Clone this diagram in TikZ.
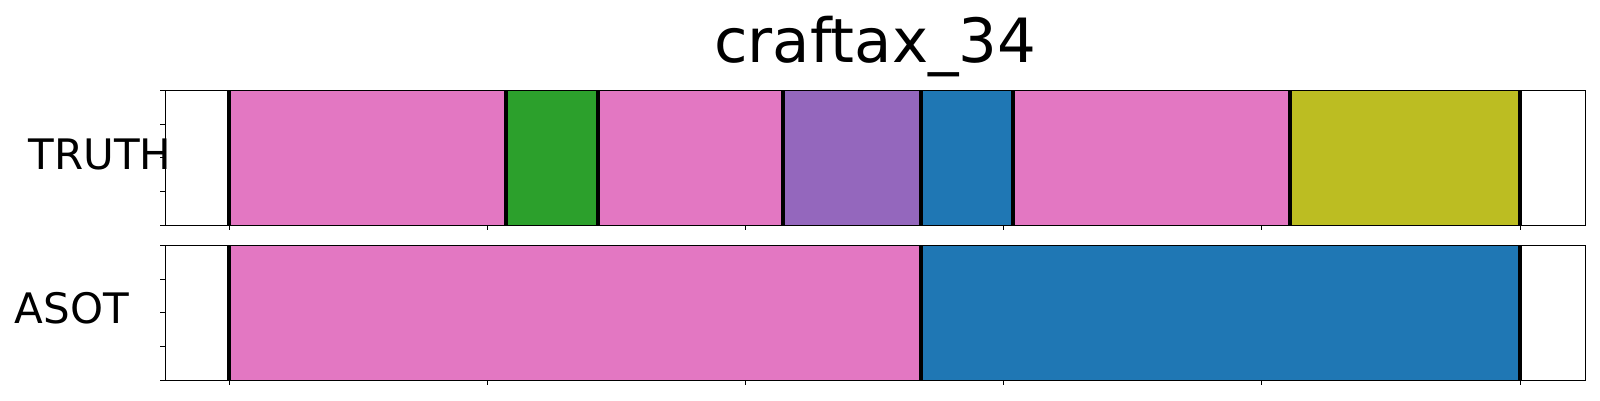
\documentclass[tikz,border=0pt]{standalone}
\usepackage{fontspec}
\setmainfont{DejaVu Sans}
\definecolor{tabpink}{HTML}{E377C2}
\definecolor{tabgreen}{HTML}{2CA02C}
\definecolor{tabpurple}{HTML}{9467BD}
\definecolor{tabblue}{HTML}{1F77B4}
\definecolor{tabolive}{HTML}{BCBD22}
\tikzset{
  frame/.style={draw=black, line width=1.3pt},
  sep/.style={draw=black, line width=4pt},
  tick/.style={draw=black, line width=1pt},
  seg/.style={line width=0.8pt},
  rowlabel/.style={font=\fontsize{42}{42}\selectfont, inner sep=0pt, anchor=base west},
}
\begin{document}
\begin{tikzpicture}[x=1pt, y=-1pt]
\useasboundingbox (0,0) rectangle (1600,400);
\fill[white] (0,0) rectangle (1600,400);
% title
\node[font=\fontsize{61}{61}\selectfont, inner sep=0pt, anchor=base] (title) at (875.3,62.7) {craftax\_34};
% ---- TRUTH row
\def\ta{90.3}\def\tb{225.3}
\fill[tabpink]   (229,\ta) rectangle (506,\tb);
\fill[tabgreen]  (506,\ta) rectangle (598,\tb);
\fill[tabpink]   (598,\ta) rectangle (783,\tb);
\fill[tabpurple] (783,\ta) rectangle (921,\tb);
\fill[tabblue]   (921,\ta) rectangle (1013,\tb);
\fill[tabpink]   (1013,\ta) rectangle (1290,\tb);
\fill[tabolive]  (1290,\ta) rectangle (1520,\tb);
\foreach \xx in {229,506,598,783,921,1013,1290,1520}{
  \draw[sep] (\xx,\ta) -- (\xx,\tb);
}
\draw[frame] (165.3,\ta) rectangle (1585.3,\tb);
\foreach \yy in {90.3,124,157.8,191.5,225.3}{
  \draw[tick] (160.3,\yy) -- (165.3,\yy);
}
\foreach \xx in {229,487.2,745.4,1003.6,1261.8,1520}{
  \draw[tick] (\xx,\tb) -- (\xx,\tb+5);
}
\node[rowlabel] (truth) at (28.3,169.3) {TRUTH};
% ---- ASOT row
\def\ba{245.3}\def\bb{380.3}
\fill[tabpink] (229,\ba) rectangle (921,\bb);
\fill[tabblue] (921,\ba) rectangle (1520,\bb);
\foreach \xx in {229,921,1520}{
  \draw[sep] (\xx,\ba) -- (\xx,\bb);
}
\draw[frame] (165.3,\ba) rectangle (1585.3,\bb);
\foreach \yy in {245.3,279,312.8,346.5,380.3}{
  \draw[tick] (160.3,\yy) -- (165.3,\yy);
}
\foreach \xx in {229,487.2,745.4,1003.6,1261.8,1520}{
  \draw[tick] (\xx,\bb) -- (\xx,\bb+5);
}
\node[rowlabel] (asot) at (14.5,323.3) {ASOT};
\end{tikzpicture}
\end{document}
